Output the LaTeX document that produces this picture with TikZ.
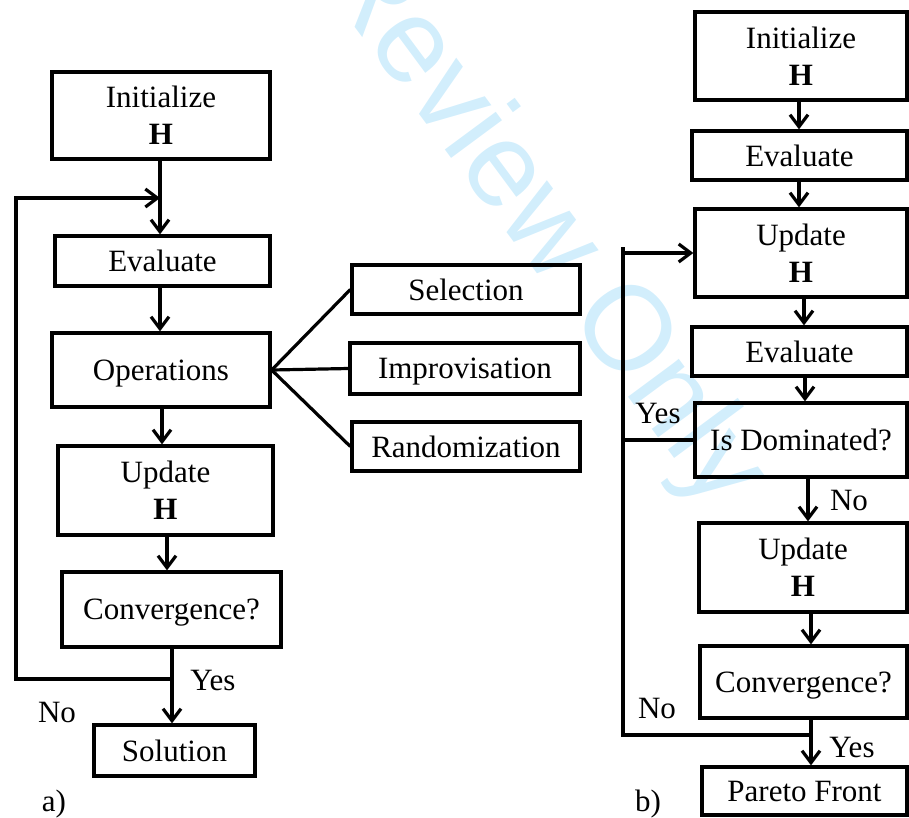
\documentclass[tikz,border=0pt]{standalone}
\usepackage{fontspec}
\setmainfont{Liberation Serif}
\newfontfamily\markfont{Liberation Sans}
\usetikzlibrary{arrows.meta}
\definecolor{markblue}{RGB}{210,238,252}
\begin{document}
\begin{tikzpicture}[x=1pt,y=-1pt,
  box/.style={draw, line width=3.3pt, inner sep=0pt, align=center, text depth=0pt,
    font=\fontsize{31}{37}\selectfont},
  lbl/.style={font=\fontsize{31}{37}\selectfont, inner sep=0pt, anchor=base},
  link/.style={line width=3.2pt},
  arr/.style={link, -{Straight Barb[length=12pt,width=18pt]}},
]
\useasboundingbox (0,0) rectangle (909,817);

% watermark
\begin{scope}
  \clip (0,0) rectangle (909,817);
  \node[text=markblue, font=\markfont\fontsize{120}{130}\selectfont,
        rotate=-53.5, anchor=base west, inner sep=0pt] (wm)
        at (365.5,41.9) {\llap{For Peer R}eview Only};
\end{scope}

% ---- a) single-objective loop ----
\node[box, minimum width=218pt, minimum height=87pt] (lInit) at (161,115.5) {Initialize\\\textbf{H}};
\node[box, minimum width=215pt, minimum height=50pt] (lEval) at (162.5,261) {Evaluate};
\node[box, minimum width=218pt, minimum height=74pt] (lOps)  at (161,370) {Operations};
\node[box, minimum width=215pt, minimum height=89pt] (lUpd)  at (165.5,490.5) {Update\\\textbf{H}};
\node[box, minimum width=219pt, minimum height=75pt] (lConv) at (171.5,609.5) {Convergence?};
\node[box, minimum width=161pt, minimum height=51pt] (lSol)  at (174.5,750.5) {Solution};

\node[box, minimum width=228pt, minimum height=49pt] (Sel) at (466,289.5) {Selection};
\node[box, minimum width=230pt, minimum height=51pt] (Imp) at (465,368.5) {Improvisation};
\node[box, minimum width=228pt, minimum height=49pt] (Rnd) at (466,446.5) {Randomization};

\draw[arr] ([xshift=-1pt]lInit.south) -- ([xshift=-2.5pt]lEval.north);
\draw[arr] ([xshift=-2.5pt]lEval.south) -- ([xshift=-1pt]lOps.north);
\draw[arr] ([xshift=1pt]lOps.south) -- ([xshift=-3.5pt]lUpd.north);
\draw[arr] ([xshift=1.5pt]lUpd.south) -- ([xshift=-4.5pt]lConv.north);
\draw[arr] ([xshift=0.5pt]lConv.south) -- ([xshift=-2.5pt]lSol.north);

\draw[link] (lOps.east) -- (Sel.west);
\draw[link] (lOps.east) -- (Imp.west);
\draw[link] (lOps.east) -- (Rnd.west);

\coordinate (lsplit) at (172,679);
\coordinate (ljoin)  at (160,198);
\coordinate (lleft)  at (16,0);
\draw[arr] (lsplit) -- (lsplit -| lleft) |- (ljoin);

\node[lbl] (yesL) at (213,690) {Yes};
\node[lbl] (noL)  at (57,722) {No};
\node[lbl] (aL)   at (54,811) {a)};

% ---- b) Pareto loop ----
\node[box, minimum width=212pt, minimum height=88pt] (rInit)  at (801,56) {Initialize\\\textbf{H}};
\node[box, minimum width=215pt, minimum height=49pt] (rEval1) at (799.5,155.5) {Evaluate};
\node[box, minimum width=212pt, minimum height=88pt] (rUpd1)  at (801,253) {Update\\\textbf{H}};
\node[box, minimum width=215pt, minimum height=49pt] (rEval2) at (799.5,351.5) {Evaluate};
\node[box, minimum width=212pt, minimum height=74pt] (rDom)   at (801,440) {Is Dominated?};
\node[box, minimum width=208pt, minimum height=89pt] (rUpd2)  at (803,567.5) {Update\\\textbf{H}};
\node[box, minimum width=207pt, minimum height=72pt] (rConv)  at (803.5,682) {Convergence?};
\node[box, minimum width=205pt, minimum height=48pt] (rPar)   at (804.5,791) {Pareto Front};

\draw[arr] ([xshift=-2pt]rInit.south) -- ([xshift=-0.5pt]rEval1.north);
\draw[arr] ([xshift=-0.5pt]rEval1.south) -- ([xshift=-2pt]rUpd1.north);
\draw[arr] ([xshift=3pt]rUpd1.south) -- ([xshift=4.5pt]rEval2.north);
\draw[arr] ([xshift=5.5pt]rEval2.south) -- ([xshift=4pt]rDom.north);
\draw[arr] ([xshift=7pt]rDom.south) -- ([xshift=5pt]rUpd2.north);
\draw[arr] ([xshift=8pt]rUpd2.south) -- ([xshift=7.5pt]rConv.north);
\draw[arr] ([xshift=7.5pt]rConv.south) -- ([xshift=6.5pt]rPar.north);

\coordinate (rsplit) at (811,735);
\coordinate (rleft)  at (623,0);
\coordinate (rtop)   at (623,247);
\draw[link] (rsplit) -- (rsplit -| rleft) -- (rtop);
\draw[arr] (rUpd1.west -| rleft) -- (rUpd1.west);
\draw[link] (rDom.west) -- (rDom.west -| rleft);

\node[lbl] (yesR1) at (658,423) {Yes};
\node[lbl] (noR1)  at (849,510) {No};
\node[lbl] (noR2)  at (657,718) {No};
\node[lbl] (yesR2) at (852,757) {Yes};
\node[lbl] (bL)    at (648,811) {b)};
\end{tikzpicture}
\end{document}
